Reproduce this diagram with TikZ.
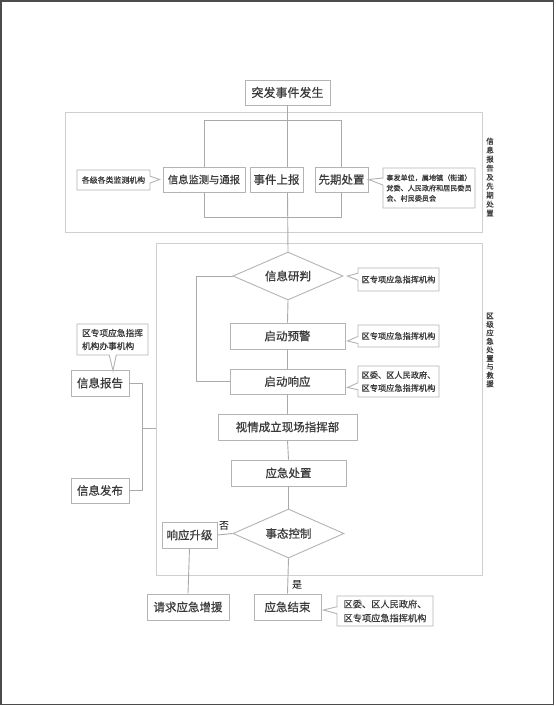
\documentclass[tikz,border=0pt]{standalone}
\usepackage{fontspec}
\setmainfont{Noto Sans CJK SC}[FakeBold=0.6]
\newfontfamily\plainfont{Noto Sans CJK SC}
\usetikzlibrary{shapes.geometric,shapes.callouts}
\definecolor{boxline}{HTML}{B4B4B4}
\definecolor{conn}{HTML}{AAAAAA}
\definecolor{grpline}{HTML}{CFCFCF}
\definecolor{txt}{HTML}{3A3A3A}
\tikzset{
  box/.style={draw=boxline, line width=0.9pt, fill=white, inner sep=0pt, text=txt, font=\fontsize{11.5}{13}\selectfont},
  dia/.style={diamond, aspect=2.3, draw=boxline, line width=0.9pt, fill=white, inner sep=0pt, text=txt, font=\fontsize{11.5}{13}\selectfont},
  grp/.style={draw=grpline, line width=1pt, inner sep=0pt},
  note/.style={rectangle callout, draw=boxline, line width=0.9pt, fill=white, inner sep=0pt, text=txt, align=left, callout pointer width=7pt},
  wire/.style={draw=conn, line width=0.9pt},
  yn/.style={text=black, font=\plainfont\fontsize{10}{11}\selectfont, inner sep=0pt},
  vlab/.style={text=txt, align=center, inner sep=0pt}
}
\begin{document}
\begin{tikzpicture}[x=1pt,y=-1pt]
\useasboundingbox (0,0) rectangle (555,706);
\fill[white] (0,0) rectangle (555,706);
\draw[draw=black!70, line width=1.6pt] (1,1) rectangle (553.5,704.5);

% group frames
\node[grp, minimum width=417pt, minimum height=119pt] (g1) at (273.5,172.5) {};
\node[grp, minimum width=326pt, minimum height=332pt] (g2) at (319,409) {};

% section labels
\node[vlab, font=\fontsize{7.5}{9}\selectfont] (l1) at (490,177) {信\\息\\报\\告\\及\\先\\期\\处\\置};
\node[vlab, font=\fontsize{7.5}{8.5}\selectfont] (l2) at (490,350) {区\\级\\应\\急\\处\\置\\与\\救\\援};

% top part nodes
\node[box, minimum width=85pt, minimum height=25pt, font=\fontsize{12}{13}\selectfont] (top) at (287.5,92.5) {突发事件发生};
\node[box, minimum width=82pt, minimum height=25pt, font=\fontsize{10.3}{12}\selectfont] (mon) at (204,179.5) {信息监测与通报};
\node[box, minimum width=53pt, minimum height=25pt] (rep) at (276.5,179.5) {事件上报};
\node[box, minimum width=53pt, minimum height=25pt] (early) at (341.5,179.5) {先期处置};

% brackets in top group
\coordinate (bt) at (0,120);
\coordinate (bb) at (0,217);
\draw[wire] (mon.north) -- (mon.north |- bt) -- (early.north |- bt) -- (early.north);
\draw[wire] (mon.south) -- (mon.south |- bb) -- (early.south |- bb) -- (early.south);

% middle nodes
\node[dia, minimum width=110pt, minimum height=48pt] (d1) at (288,276) {信息研判};
\node[box, minimum width=115pt, minimum height=26pt] (warn) at (287.5,336) {启动预警};
\node[box, minimum width=115pt, minimum height=25pt] (resp) at (287.5,381.5) {启动响应};
\node[box, minimum width=139pt, minimum height=26pt] (cmd) at (287.5,427) {视情成立现场指挥部};
\node[box, minimum width=115pt, minimum height=26pt] (hand) at (288.5,473) {应急处置};
\node[dia, minimum width=111pt, minimum height=49pt] (d2) at (288.5,533.5) {事态控制};
\node[box, minimum width=55pt, minimum height=26pt] (up) at (189.5,535) {响应升级};
\node[box, minimum width=82pt, minimum height=26pt] (aid) at (188,607) {请求应急增援};
\node[box, minimum width=67pt, minimum height=26pt] (fin) at (287.5,607) {应急结束};

% left side
\node[box, minimum width=58pt, minimum height=26pt] (info) at (100,383) {信息报告};
\node[box, minimum width=58pt, minimum height=25pt] (pub) at (100,490.5) {信息发布};

% main spine
\draw[wire] (top.south) -- (top.south |- rep.north);
\draw[wire] (top.south |- rep.south) -- (d1.north);
\draw[wire] (d1.south) -- (warn.north);
\draw[wire] (warn.south) -- (resp.north);
\draw[wire] (resp.south) -- (cmd.north);
\draw[wire] (cmd.south) -- (hand.north);
\draw[wire] (hand.south) -- (d2.north);
\draw[wire] (d2.south) -- (fin.north);
\draw[wire] (d2.west) -- (up.east);
\draw[wire] (up.south) -- (aid.north);

% loop back from d1 to response
\coordinate (lp) at (196,0);
\draw[wire] (d1.west) -- (lp |- d1.west) -- (lp |- resp.west) -- (resp.west);

% left bracket
\coordinate (lb) at (142,428);
\draw[wire] (info.east) -- (lb |- info.east) -- (lb |- pub.east) -- (pub.east);
\draw[wire] (lb) -- (g2.west |- lb);

% callouts
\node[note, minimum width=73pt, minimum height=20pt, align=center, font=\fontsize{7.9}{9}\selectfont,
  callout absolute pointer={([xshift=-3pt]mon.west)}] (n1) at (113.5,180) {各级各类监测机构};
\node[note, minimum width=92pt, minimum height=40pt, font=\fontsize{7.1}{10.3}\selectfont,
  callout absolute pointer={([yshift=0pt]early.east)}] (n2) at (429,188) {事发单位，属地镇（街道）\\党委、人民政府和居民委员\\会、村民委员会};
\node[note, minimum width=81pt, minimum height=23pt, align=center, font=\fontsize{8.2}{10}\selectfont,
  callout absolute pointer={([xshift=4pt]d1.east)}] (n3) at (398.5,279.5) {区专项应急指挥机构};
\node[note, minimum width=81pt, minimum height=22pt, align=center, font=\fontsize{8.2}{10}\selectfont,
  callout absolute pointer={([xshift=2pt,yshift=-5pt]warn.east)}] (n4) at (398.5,336) {区专项应急指挥机构};
\node[note, minimum width=81pt, minimum height=31pt, align=left, font=\fontsize{8.2}{13}\selectfont,
  callout absolute pointer={([xshift=2pt,yshift=-6pt]resp.east)}] (n5) at (398.5,381.5) {区委、区人民政府、\\区专项应急指挥机构};
\node[note, minimum width=71pt, minimum height=31pt, align=left, font=\fontsize{8.7}{13}\selectfont,
  callout absolute pointer={([xshift=13pt,yshift=-1pt]info.north)}] (n6) at (112.5,339.5) {区专项应急指挥\\机构办事机构};
\node[note, minimum width=96pt, minimum height=30pt, align=left, font=\fontsize{9.2}{14}\selectfont,
  callout absolute pointer={([xshift=2pt,yshift=-3pt]fin.east)}] (n7) at (385,611) {区委、区人民政府、\\区专项应急指挥机构};

% yes / no
\node[yn] (no) at (224,526) {否};
\node[yn] (yes) at (297,585) {是};
\end{tikzpicture}
\end{document}
